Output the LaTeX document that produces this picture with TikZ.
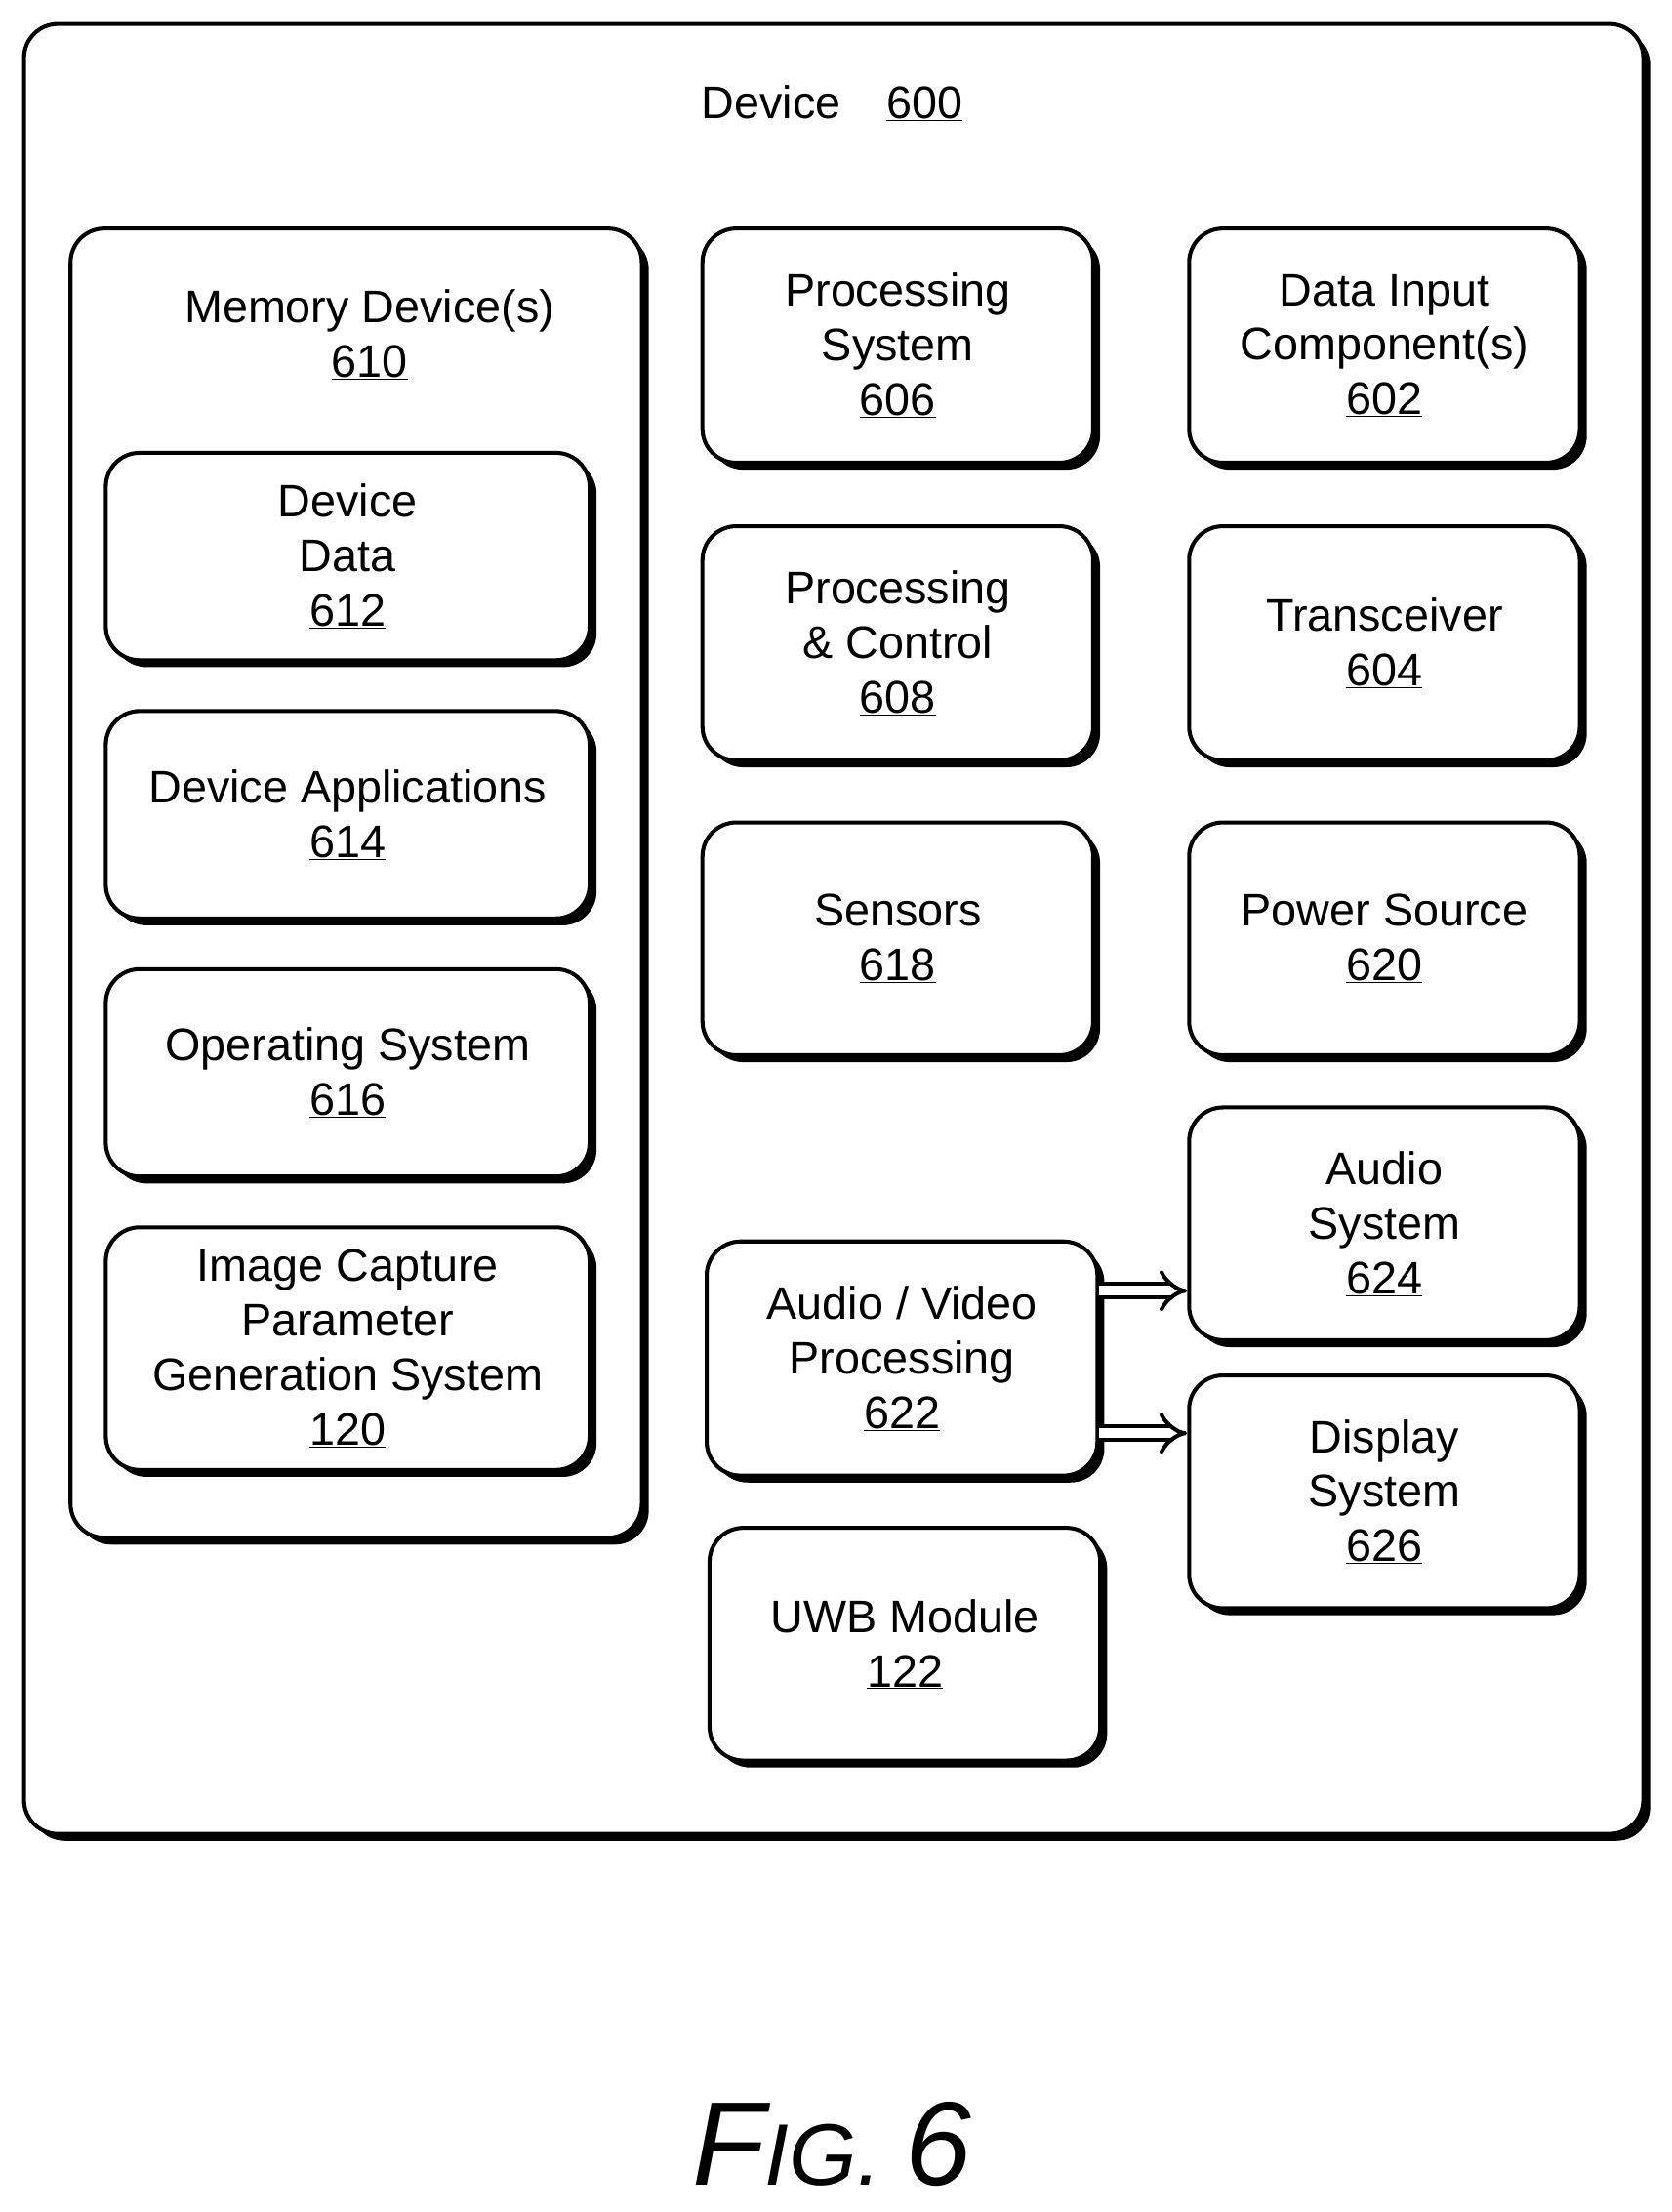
\documentclass[tikz,border=0pt]{standalone}
\usepackage{fontspec}
\setmainfont{Liberation Sans}
\usetikzlibrary{shadows, arrows.meta}
\newcommand{\ulnum}[1]{\underline{#1}}
\tikzset{
  box/.style={draw, line width=4pt, rounded corners=1.2cm, fill=white, align=center,
    font=\fontsize{46}{55}\selectfont, inner sep=0pt,
    drop shadow={shadow xshift=7pt, shadow yshift=-7pt, fill=black, opacity=1}},
  link/.style={double, double distance=10pt, line width=4pt, -{Implies[length=12pt]}}
}
\begin{document}
\begin{tikzpicture}[x=0.05cm, y=-0.05cm]
  \useasboundingbox (0,0) rectangle (1185,1568);

  % device outline
  \node[box, minimum width=57.4cm, minimum height=64.15cm] (dev) at (591,658.5) {};
  \node[font=\fontsize{46}{55}\selectfont] (devt) at (590,73) {Device\quad\ulnum{600}};

  % memory column
  \node[box, minimum width=20.25cm, minimum height=46.4cm] (mem) at (252.5,626) {};
  \node[align=center, font=\fontsize{46}{55}\selectfont] (memt) at (262,237) {Memory Device(s)\\\ulnum{610}};
  \node[box, minimum width=17.15cm, minimum height=7.35cm] (dd) at (246.5,394.5) {Device\\Data\\\ulnum{612}};
  \node[box, minimum width=17.15cm, minimum height=7.35cm] (da) at (246.5,577.5) {Device Applications\\\ulnum{614}};
  \node[box, minimum width=17.15cm, minimum height=7.35cm] (os) at (246.5,760.5) {Operating System\\\ulnum{616}};
  \node[box, minimum width=17.15cm, minimum height=8.6cm] (icp) at (246.5,956) {Image Capture\\Parameter\\Generation System\\\ulnum{120}};

  % middle column
  \node[box, minimum width=13.85cm, minimum height=8.3cm] (ps) at (636.5,245) {Processing\\System\\\ulnum{606}};
  \node[box, minimum width=13.85cm, minimum height=8.3cm] (pc) at (636.5,456) {Processing\\\& Control\\\ulnum{608}};
  \node[box, minimum width=13.85cm, minimum height=8.25cm] (sen) at (636.5,665.5) {Sensors\\\ulnum{618}};
  \node[box, minimum width=13.85cm, minimum height=8.3cm] (av) at (639.5,963) {Audio / Video\\Processing\\\ulnum{622}};
  \node[box, minimum width=13.85cm, minimum height=8.25cm] (uwb) at (641.5,1165.5) {UWB Module\\\ulnum{122}};

  % right column
  \node[box, minimum width=13.85cm, minimum height=8.3cm] (din) at (981.5,245) {Data Input\\Component(s)\\\ulnum{602}};
  \node[box, minimum width=13.85cm, minimum height=8.3cm] (tr) at (981.5,456) {Transceiver\\\ulnum{604}};
  \node[box, minimum width=13.85cm, minimum height=8.25cm] (pw) at (981.5,665.5) {Power Source\\\ulnum{620}};
  \node[box, minimum width=13.85cm, minimum height=8.25cm] (aud) at (981.5,867.5) {Audio\\System\\\ulnum{624}};
  \node[box, minimum width=13.85cm, minimum height=8.25cm] (dsp) at (981.5,1057.5) {Display\\System\\\ulnum{626}};

  % outputs of audio / video processing
  \draw[link] (av.east |- 0,915) -- (aud.west |- 0,915);
  \draw[link] (av.east |- 0,1016) -- (dsp.west |- 0,1016);

  \node[font=\fontsize{120}{130}\selectfont\itshape] (fig) at (590,1520) {F\fontsize{88}{100}\selectfont IG. \fontsize{120}{130}\selectfont 6};
\end{tikzpicture}
\end{document}
